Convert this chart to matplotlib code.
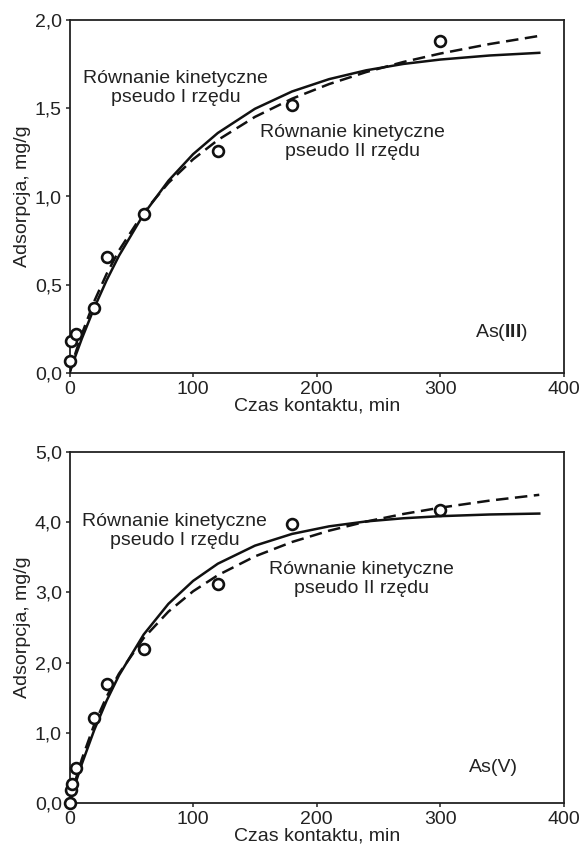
import matplotlib
matplotlib.use("Agg")
import matplotlib.pyplot as plt

plt.rcParams['font.family'] = ['Liberation Sans', 'DejaVu Sans']
plt.rcParams['mathtext.fontset'] = 'custom'
plt.rcParams['mathtext.rm'] = 'Liberation Sans'
plt.rcParams['mathtext.bf'] = 'Liberation Sans:bold'

# ---- data: As(III) ----
t3 = [0, 1, 5, 20, 30, 60, 120, 180, 300]
q3 = [0.07, 0.18, 0.22, 0.37, 0.66, 0.90, 1.26, 1.52, 1.88]

# ---- data: As(V) ----
t5 = [0, 1, 2, 5, 20, 30, 60, 120, 180, 300]
q5 = [0.00, 0.18, 0.27, 0.50, 1.21, 1.70, 2.19, 3.12, 3.97, 4.17]

# fitted curves
tc = [0, 5, 10, 20, 30, 40, 60, 80, 100, 120, 150, 180, 210, 240, 270, 300, 340, 380]
pfo3 = [0, 0.100, 0.195, 0.369, 0.525, 0.664, 0.900, 1.089, 1.240, 1.360, 1.497,
        1.595, 1.665, 1.715, 1.751, 1.776, 1.799, 1.814]
pso3 = [0, 0.116, 0.221, 0.406, 0.561, 0.694, 0.910, 1.077, 1.211, 1.320, 1.451,
        1.554, 1.637, 1.705, 1.762, 1.810, 1.864, 1.910]
pfo5 = [0, 0.289, 0.557, 1.039, 1.456, 1.817, 2.400, 2.837, 3.164, 3.409, 3.666,
        3.833, 3.941, 4.011, 4.056, 4.086, 4.110, 4.123]
pso5 = [0, 0.332, 0.625, 1.117, 1.514, 1.842, 2.350, 2.726, 3.016, 3.245, 3.513,
        3.718, 3.879, 4.009, 4.117, 4.207, 4.308, 4.390]

yticks3 = [0.0, 0.5, 1.0, 1.5, 2.0]
yticks5 = [0.0, 1.0, 2.0, 3.0, 4.0, 5.0]
xticks = [0, 100, 200, 300, 400]

lbl1 = "Równanie kinetyczne\npseudo I rzędu"
lbl2 = "Równanie kinetyczne\npseudo II rzędu"

FS = 14
TXT = '#222222'

fig = plt.figure(figsize=(5.83, 8.56), dpi=100)
ax1 = fig.add_axes([69.5 / 583, (856 - 373) / 856, 494.5 / 583, 353 / 856])
ax2 = fig.add_axes([69.5 / 583, (856 - 803) / 856, 494.5 / 583, 351 / 856])


def fmt(v):
    return f"{v:.1f}".replace('.', ',')


def style(ax, yt, ymax):
    ax.set_xlim(0, 400)
    ax.set_ylim(0, ymax)
    ax.set_xticks(xticks)
    ax.set_xticklabels([str(x) for x in xticks])
    ax.set_yticks(yt)
    ax.set_yticklabels([fmt(v) for v in yt])
    for s in ax.spines.values():
        s.set_linewidth(1.3)
        s.set_color('#222222')
    ax.tick_params(direction='out', length=3, width=1.1, labelsize=FS,
                   colors=TXT, pad=2.5)
    ax.set_xlabel("Czas kontaktu, min", fontsize=FS, labelpad=0, color=TXT)
    ax.set_ylabel("Adsorpcja, mg/g", fontsize=FS, labelpad=3, color=TXT)


for ax, t, q, pf, ps, yt, ymax in [
        (ax1, t3, q3, pfo3, pso3, yticks3, 2.0),
        (ax2, t5, q5, pfo5, pso5, yticks5, 5.0)]:
    ax.plot(tc, pf, '-', color='#111111', lw=1.8, zorder=3)
    ax.plot(tc, ps, '--', color='#111111', lw=1.8, dashes=(5, 2.6), zorder=3)
    ax.plot(t, q, 'o', mfc='white', mec='#111111', ms=7.8, mew=1.9,
            clip_on=False, zorder=4)
    style(ax, yt, ymax)

ax1.text(86, 1.615, lbl1, ha='center', va='center', fontsize=FS, color=TXT,
         linespacing=1.15)
ax1.text(229, 1.31, lbl2, ha='center', va='center', fontsize=FS, color=TXT,
         linespacing=1.15)
ax1.text(349, 0.23, r"As($\mathbf{III}$)", ha='center', va='center', fontsize=FS,
         color=TXT)

ax2.text(85, 3.87, lbl1, ha='center', va='center', fontsize=FS, color=TXT,
         linespacing=1.15)
ax2.text(236, 3.19, lbl2, ha='center', va='center', fontsize=FS, color=TXT,
         linespacing=1.15)
ax2.text(343, 0.50, "As(V)", ha='center', va='center', fontsize=FS, color=TXT)

fig.savefig("out.png", dpi=100)
